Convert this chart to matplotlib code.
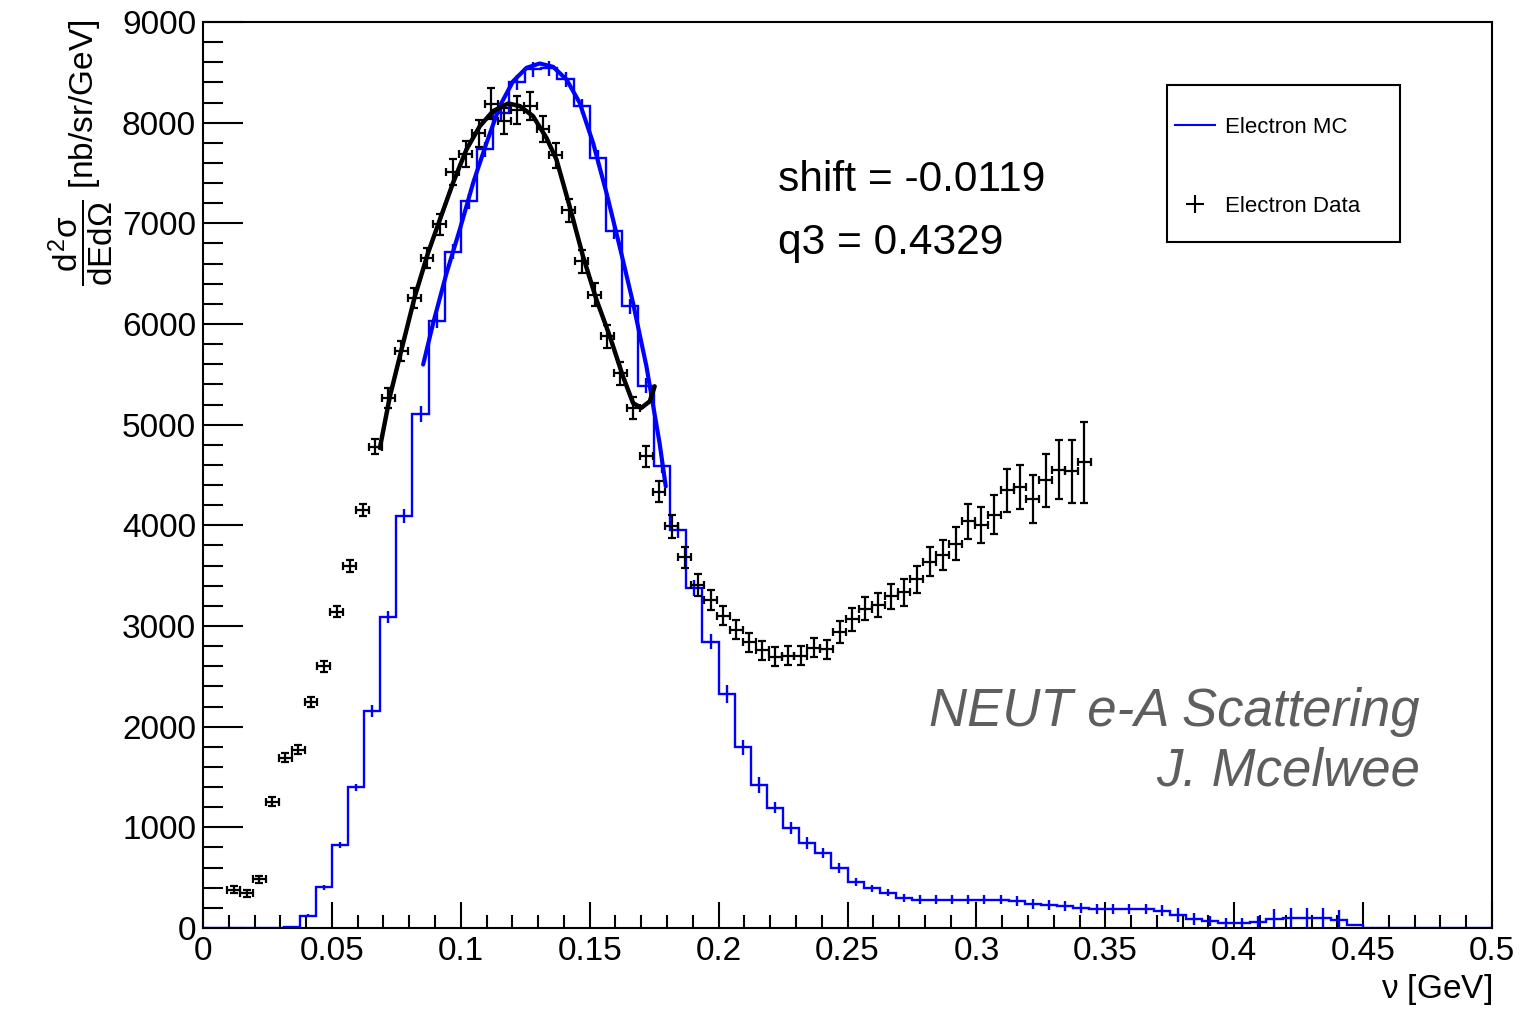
import numpy as np
import matplotlib
matplotlib.use("Agg")
import matplotlib.pyplot as plt
from matplotlib.lines import Line2D
from matplotlib.patches import Rectangle
from matplotlib.ticker import MultipleLocator

plt.rcParams['font.family'] = ['Liberation Sans', 'DejaVu Sans']
plt.rcParams['mathtext.fontset'] = 'custom'
plt.rcParams['mathtext.rm'] = 'Liberation Sans'
plt.rcParams['mathtext.it'] = 'Liberation Sans'
plt.rcParams['mathtext.bf'] = 'Liberation Sans:bold'

# ---- Electron MC histogram: 80 bins over 0 - 0.5 GeV ----
mc_range = (0.0, 0.5)
mc_nbins = 80
mc_values = [
    0, 0, 0, 0, 0, 10,
    124, 405, 820, 1396, 2160, 3090, 4094, 5105,
    6034, 6717, 7220, 7734, 8100, 8400, 8529, 8540, 8430, 8164, 7650, 6920, 6176, 5388,
    4592, 3949, 3377, 2846, 2323, 1796, 1421, 1196, 991, 842, 743, 593, 461, 395, 351, 298, 280, 280,
    280, 280, 280, 282, 265, 240, 225, 215, 196, 189, 189, 189, 189,
    172, 129, 89, 73, 53, 53, 63, 89, 99, 99, 99, 80, 26,
    0, 0, 0, 0, 0, 0, 0, 0,
]
mc_errors = [
    0, 0, 0, 0, 0, 0,
    15, 25, 30, 35, 60, 62, 72, 80,
    75, 75, 75, 75, 75, 75, 75, 75, 75, 75, 75, 75, 75, 75,
    75, 75, 75, 73, 86, 75, 75,
    57, 60, 60, 50, 50, 40, 33, 33, 40, 45, 45,
    45, 45, 45, 45, 50, 50, 50, 50, 50, 50, 50, 50, 50,
    55, 65, 60, 50, 50, 50, 60, 95, 95, 95, 95, 95, 0,
    0, 0, 0, 0, 0, 0, 0, 0,
]

# ---- Electron data (shifted energy transfer) ----
data_nu = [
    0.0119, 0.0169, 0.0219, 0.0269, 0.0319, 0.0369, 0.0419, 0.0469, 0.0519, 0.0569,
    0.0619, 0.0669, 0.0719, 0.0769, 0.0819, 0.0869, 0.0919, 0.0969, 0.1019, 0.1069,
    0.1119, 0.1169, 0.1219, 0.1269, 0.1319, 0.1369, 0.1419, 0.1469, 0.1519, 0.1569,
    0.1619, 0.1669, 0.1719, 0.1769, 0.1819, 0.1869, 0.1919, 0.1969, 0.2019, 0.2069,
    0.2119, 0.2169, 0.2219, 0.2269, 0.2319, 0.2369, 0.2419, 0.2469, 0.2519, 0.2569,
    0.2619, 0.2669, 0.2719, 0.2769, 0.2819, 0.2869, 0.2919, 0.2969, 0.3019, 0.3069,
    0.3119, 0.3169, 0.3219, 0.3269, 0.3319, 0.3369, 0.3419,
]
data_xsec = [
    381, 345, 484, 1255, 1691, 1769, 2247, 2598, 3141, 3599,
    4152, 4780, 5265, 5736, 6260, 6657, 6990, 7510, 7690, 7895,
    8190, 8020, 8125, 8165, 7935, 7675, 7130, 6623, 6292, 5880,
    5510, 5166, 4685, 4335, 3989, 3681, 3405, 3260, 3100, 2962,
    2840, 2760, 2697, 2705, 2703, 2785, 2770, 2940, 3065, 3170,
    3210, 3297, 3333, 3465, 3640, 3708, 3817, 4039, 4006, 4105,
    4347, 4381, 4261, 4446, 4553, 4536, 4625,
]
data_err = [
    35, 35, 35, 45, 45, 45, 50, 50, 55, 60,
    60, 75, 100, 100, 100, 100, 105, 125, 130, 135,
    150, 130, 135, 135, 130, 125, 115, 115, 115, 115,
    115, 110, 108, 108, 115, 108, 110, 100, 95, 95,
    95, 95, 95, 95, 95, 95, 95, 105, 110, 115,
    120, 125, 130, 135, 140, 150, 166, 170, 180, 194,
    212, 220, 240, 265, 292, 313, 400,
]
data_half_width = 0.0025

# ---- Peak fit to the data ----
fit_data_nu = [0.0686, 0.0725, 0.0770, 0.0822, 0.0873, 0.0919, 0.0970, 0.1022,
               0.1074, 0.1125, 0.1184, 0.1229, 0.1280, 0.1332, 0.1371, 0.1422,
               0.1474, 0.1526, 0.1578, 0.1629, 0.1668, 0.1700, 0.1733, 0.1752]
fit_data_xsec = [4768, 5281, 5746, 6276, 6707, 7038, 7403, 7734,
                 7966, 8115, 8191, 8165, 8065, 7850, 7634, 7170,
                 6673, 6243, 5878, 5480, 5215, 5166, 5232, 5381]

# ---- Peak fit to the MC ----
fit_mc_nu = [0.0854, 0.0893, 0.0945, 0.0996, 0.1048, 0.1100, 0.1151, 0.1203,
             0.1255, 0.1306, 0.1358, 0.1410, 0.1461, 0.1513, 0.1565, 0.1616,
             0.1668, 0.1720, 0.1771, 0.1795]
fit_mc_xsec = [5597, 6011, 6508, 6938, 7403, 7800, 8164, 8412,
               8545, 8588, 8555, 8429, 8198, 7800, 7303, 6773,
               6210, 5580, 4818, 4387]

x_ticks = [0, 0.05, 0.1, 0.15, 0.2, 0.25, 0.3, 0.35, 0.4, 0.45, 0.5]
x_tick_labels = ['0', '0.05', '0.1', '0.15', '0.2', '0.25', '0.3', '0.35', '0.4', '0.45', '0.5']
y_ticks = [0, 1000, 2000, 3000, 4000, 5000, 6000, 7000, 8000, 9000]
y_tick_labels = [str(v) for v in y_ticks]

W, H = 1536, 1009
fig = plt.figure(figsize=(W / 100, H / 100), dpi=100)
fig.patch.set_facecolor('white')


def fx(px):
    return px / W


def fy(py):
    return 1 - py / H


ax = fig.add_axes([fx(203), fy(928), fx(1492) - fx(203), fy(22) - fy(928)])
ax.set_xlim(0, 0.5)
ax.set_ylim(0, 9000)

edges = np.linspace(mc_range[0], mc_range[1], mc_nbins + 1)
centers = 0.5 * (edges[:-1] + edges[1:])
mc_v = np.array(mc_values, dtype=float)
mc_e = np.array(mc_errors, dtype=float)

ax.stairs(mc_v, edges, color='#0000ff', lw=1.7, baseline=0, zorder=2)
has_err = mc_e > 0
ax.errorbar(centers[has_err], mc_v[has_err], yerr=mc_e[has_err], fmt='none',
            ecolor='#0000ff', elinewidth=1.7, capsize=0, zorder=2)

ax.errorbar(data_nu, data_xsec, xerr=data_half_width, yerr=data_err, fmt='none',
            ecolor='black', elinewidth=1.6, capsize=2.8, capthick=1.6, zorder=3)

ax.plot(fit_mc_nu, fit_mc_xsec, color='#0000ff', lw=3.0, zorder=4,
        solid_capstyle='round', solid_joinstyle='round')
ax.plot(fit_data_nu, fit_data_xsec, color='black', lw=3.2, zorder=5,
        solid_capstyle='round', solid_joinstyle='round')

ax.set_xticks(x_ticks)
ax.set_xticklabels(x_tick_labels)
ax.set_yticks(y_ticks)
ax.set_yticklabels(y_tick_labels)
ax.xaxis.set_minor_locator(MultipleLocator(0.01))
ax.yaxis.set_minor_locator(MultipleLocator(200))
ax.tick_params(which='both', direction='in', top=False, right=False, width=1.5,
               labelsize=24, colors='black')
ax.tick_params(axis='y', which='major', length=29, pad=5)
ax.tick_params(axis='y', which='minor', length=14.5)
ax.tick_params(axis='x', which='major', length=19, pad=6)
ax.tick_params(axis='x', which='minor', length=9.5)
for sp in ax.spines.values():
    sp.set_linewidth(1.5)

# axis titles
fig.text(fx(1492), fy(998), r'$\nu$ [GeV]', ha='right', va='baseline', fontsize=24)
fig.text(fx(81), fy(20), r'$\dfrac{d^{2}\sigma}{dEd\Omega}$ [nb/sr/GeV]',
         rotation=90, ha='center', va='top', fontsize=24)

# fit results
fig.text(fx(778), fy(191), 'shift = -0.0119', fontsize=30.6, ha='left', va='baseline')
fig.text(fx(778), fy(254), 'q3 = 0.4329', fontsize=30.6, ha='left', va='baseline')

# label
fig.text(fx(1420), fy(726), 'NEUT e-A Scattering', fontsize=38, style='italic',
         color='#5e5e5e', ha='right', va='baseline')
fig.text(fx(1420), fy(786), 'J. Mcelwee', fontsize=38, style='italic',
         color='#5e5e5e', ha='right', va='baseline')

# legend box
fig.add_artist(Rectangle((fx(1167), fy(242)), fx(1400) - fx(1167), fy(85) - fy(242),
                         transform=fig.transFigure, facecolor='white',
                         edgecolor='black', lw=1.5, zorder=10))
fig.add_artist(Line2D([fx(1175), fx(1215)], [fy(125), fy(125)], transform=fig.transFigure,
                      color='#0000ff', lw=1.5, zorder=11))
fig.add_artist(Line2D([fx(1195)], [fy(204)], transform=fig.transFigure, marker='+',
                      markersize=13, markeredgewidth=1.5, color='black', zorder=11))
fig.text(fx(1225), fy(125), 'Electron MC', fontsize=16, ha='left', va='center_baseline', zorder=12)
fig.text(fx(1225), fy(204), 'Electron Data', fontsize=16, ha='left', va='center_baseline', zorder=12)

fig.savefig('out.png', dpi=100, facecolor='white')
